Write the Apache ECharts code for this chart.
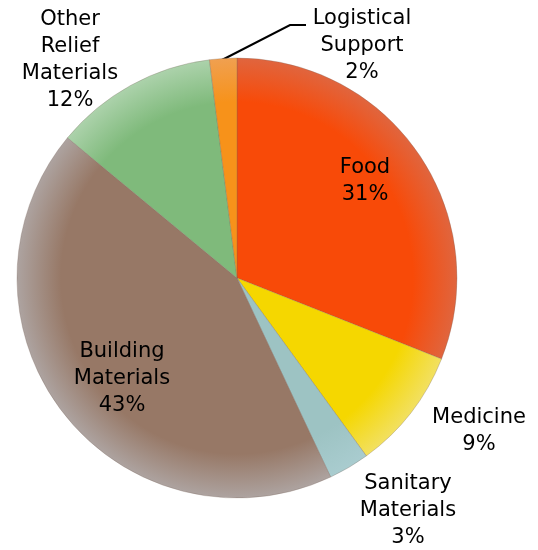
<!DOCTYPE html>
<html>
<head>
<meta charset="utf-8" />
<title>Relief pie</title>
<style>
  html, body { margin: 0; padding: 0; background: #fff; }
  #main { width: 538px; height: 550px; }
</style>
</head>
<body>
<div id="main"></div>
<script src="https://cdn.jsdelivr.net/npm/echarts@6/dist/echarts.min.js"></script>
<script>
var categories = ['Food', 'Medicine', 'Sanitary\nMaterials', 'Building\nMaterials', 'Other\nRelief\nMaterials', 'Logistical\nSupport'];
var values = [31, 9, 3, 43, 12, 2];
var innerColors = ['#f84a08', '#f5d700', '#9dc3c3', '#977866', '#7fba7b', '#f7921a'];
var edgeColors = ['#e0653e', '#f2e060', '#a9cccf', '#ada3a0', '#acd2ab', '#f0a050'];

// label placement (center of each label block)
var labelPos = [[365, 181], [479, 431], [408, 511], [122, 379], [70, 60], [362, 46]];

var cx = 237, cy = 278, R = 220;

function fill(i) {
  return {
    type: 'radial', x: cx, y: cy, r: R, global: true,
    colorStops: [
      { offset: 0, color: innerColors[i] },
      { offset: 0.8, color: innerColors[i] },
      { offset: 1, color: edgeColors[i] }
    ]
  };
}

var data = [];
for (var i = 0; i < categories.length; i++) {
  data.push({
    name: categories[i],
    value: values[i],
    itemStyle: { color: fill(i) },
    label: { position: (i === 0 || i === 3) ? 'inside' : 'outside' },
    labelLine: { show: i === 5 }
  });
}

var chart = echarts.init(document.getElementById('main'));
chart.setOption({
  animation: false,
  series: [{
    type: 'pie',
    center: [cx, cy],
    radius: [0, R],
    startAngle: 90,
    clockwise: true,
    avoidLabelOverlap: false,
    itemStyle: { borderColor: 'rgba(120,100,90,0.5)', borderWidth: 0.6 },
    label: {
      show: true,
      color: '#000',
      fontFamily: 'DejaVu Sans',
      fontSize: 21,
      lineHeight: 27,
      align: 'center',
      overflow: 'none',
      formatter: function (p) { return p.name + '\n' + p.value + '%'; }
    },
    labelLine: { lineStyle: { color: '#000', width: 2 } },
    labelLayout: function (p) {
      var pos = labelPos[p.dataIndex];
      var res = { x: pos[0], y: pos[1], align: 'center', verticalAlign: 'middle', hideOverlap: false };
      if (p.dataIndex === 5) {
        res.labelLinePoints = [[220, 61], [290, 25], [306, 25]];
      }
      return res;
    },
    data: data
  }]
});
</script>
</body>
</html>
